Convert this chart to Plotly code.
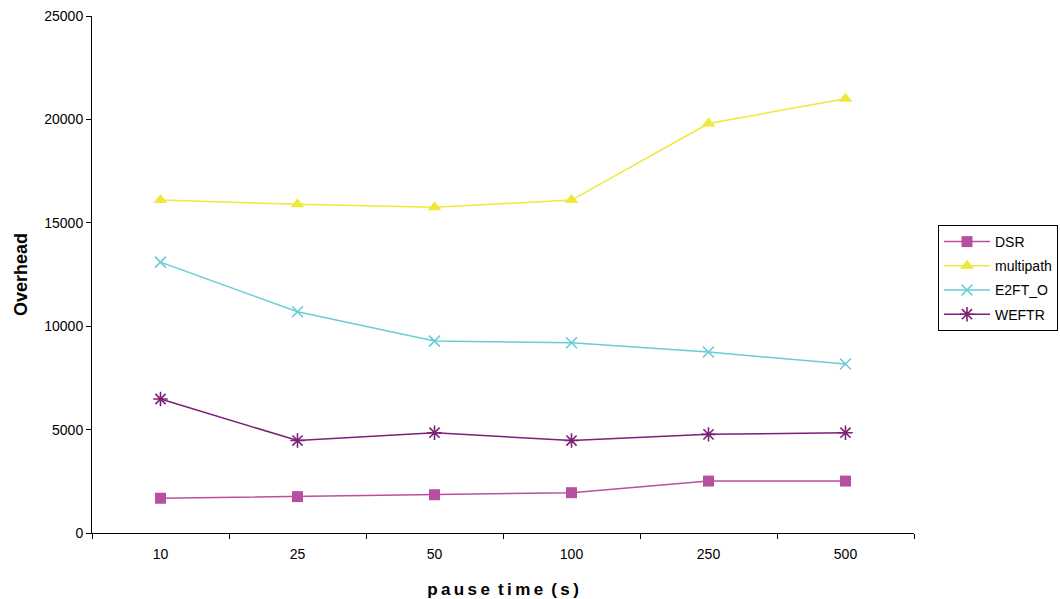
import plotly.graph_objects as go

# Pause time categories (s)
pause_times = ["10", "25", "50", "100", "250", "500"]

# Routing overhead per protocol
dsr = [1680, 1760, 1850, 1950, 2510, 2510]
multipath = [16100, 15900, 15750, 16100, 19800, 21000]
e2ft_o = [13100, 10700, 9280, 9200, 8750, 8170]
weftr = [6480, 4470, 4850, 4470, 4770, 4850]

y_ticks = [0, 5000, 10000, 15000, 20000, 25000]
y_tick_labels = ["0", "5000", "10000", "15000", "20000", "25000"]

FONT = "Liberation Sans, Arial, sans-serif"

fig = go.Figure()

fig.add_trace(go.Scatter(
    x=pause_times, y=dsr, name="DSR", mode="lines+markers", legendgroup="a",
    line=dict(color="#B84FA0", width=1.5),
    marker=dict(symbol="square", size=11, color="#B84FA0"),
))
fig.add_trace(go.Scatter(
    x=pause_times, y=multipath, name="multipath", mode="lines+markers", legendgroup="b",
    line=dict(color="#EEE838", width=1.5),
    marker=dict(symbol="triangle-up", size=12, color="#EEE838"),
))
fig.add_trace(go.Scatter(
    x=pause_times, y=e2ft_o, name="E2FT_O", mode="lines+markers", legendgroup="c",
    line=dict(color="#6ACCD8", width=1.5),
    marker=dict(symbol="x-thin-open", size=11, color="#6ACCD8",
                line=dict(color="#6ACCD8", width=1.6)),
))
fig.add_trace(go.Scatter(
    x=pause_times, y=weftr, name="WEFTR", mode="lines+markers", legendgroup="d",
    line=dict(color="#7A2178", width=1.5),
    marker=dict(symbol="asterisk-open", size=12, color="#7A2178",
                line=dict(color="#7A2178", width=1.6)),
))

fig.update_layout(
    width=1060, height=599,
    margin=dict(l=92, r=146, t=16, b=66, autoexpand=False),
    paper_bgcolor="white", plot_bgcolor="white",
    font=dict(family=FONT, size=14, color="black"),
    showlegend=True,
    legend=dict(
        xref="container", yref="container",
        x=938 / 1060, y=1 - 225 / 599, xanchor="left", yanchor="top",
        bordercolor="black", borderwidth=1, bgcolor="white",
        font=dict(family=FONT, size=14, color="black"),
        tracegroupgap=3, itemwidth=46,
    ),
    xaxis=dict(
        type="category", range=[-0.5, 5.5], automargin=False,
        showline=True, linecolor="black", linewidth=1,
        showgrid=False, zeroline=False,
        ticks="outside", ticklen=5, tickcolor="black", tickson="boundaries",
        ticklabelstandoff=8,
        tickfont=dict(size=14),
        title=dict(text="p\u2009a\u2009u\u2009s\u2009e\u2009 t\u2009i\u2009m\u2009e\u2009 (\u2009s\u2009)",
                   font=dict(family=FONT, size=17, weight="bold"), standoff=22),
    ),
    yaxis=dict(
        range=[0, 25000], tickvals=y_ticks, ticktext=y_tick_labels, automargin=False,
        showline=True, linecolor="black", linewidth=1,
        showgrid=False, zeroline=False,
        ticks="outside", ticklen=5, tickcolor="black",
        tickfont=dict(size=14),
        title=dict(text="Overhead", font=dict(family=FONT, size=18, weight="bold"),
                   standoff=11),
    ),
)

fig.write_html("out.html")
